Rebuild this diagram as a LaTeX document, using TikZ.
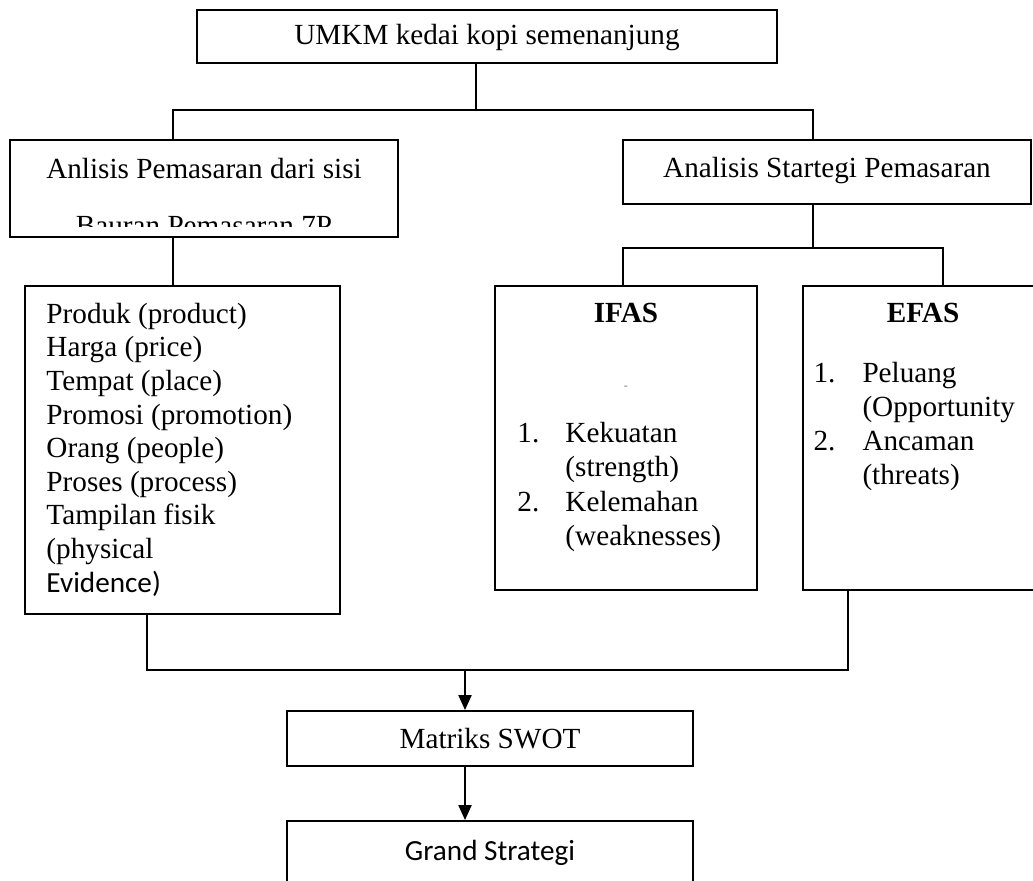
\documentclass[tikz,border=0pt]{standalone}
\usepackage{fontspec}
\setmainfont{Liberation Serif}
\newfontfamily\calibrifont{Carlito}
\usetikzlibrary{arrows.meta,positioning,calc,fit}
\tikzstyle{kotak} = [draw, line width=0.75pt, inner sep=0pt]
\tikzstyle{garis} = [line width=0.75pt]
\tikzstyle{panah} = [line width=0.75pt, -{Triangle[length=6.2pt,width=5.4pt]}]

\begin{document}
\begin{tikzpicture}[x=0.411pt, y=-0.411pt, inner sep=0pt, font=\fontsize{12}{13.8}\selectfont]
      \clip (0,0) rectangle (1033,881);
      % kotak-kotak
      \node[kotak, fit={(197,10) (777,63)}] (umkm) {};
      \node[kotak, fit={(10,140) (398,237)}] (bauran) {};
      \node[kotak, fit={(623,140) (1031,204)}] (strategi) {};
      \node[kotak, fit={(25,286) (340,614)}] (bauran7p) {};
      \node[kotak, fit={(495,286) (757,590)}] (ifas) {};
      \node[kotak, fit={(803,286) (1043,590)}] (efas) {};
      \node[kotak, fit={(287,711) (693,766)}] (swot) {};
      \node[kotak, fit={(287,821) (693,930)}] (grand) {};
      % teks
      \node[anchor=base] (umkmteks) at (487,45) {UMKM kedai kopi semenanjung};
      \node[anchor=base] (anlisis) at (204,179) {Anlisis Pemasaran dari sisi};
      \begin{scope}
        \clip (10,140) rectangle (398,227);
        \node[anchor=base] (bauranteks) at (204,236) {Bauran Pemasaran 7P};
      \end{scope}
      \node[anchor=base] (strategiteks) at (827,178) {Analisis Startegi Pemasaran};
      \node[anchor=base west] (produk) at (46,323.4) {Produk (product)};
      \node[anchor=base west] (harga) at (46,357) {Harga (price)};
      \node[anchor=base west] (tempat) at (46,390.6) {Tempat (place)};
      \node[anchor=base west] (promosi) at (46,424.2) {Promosi (promotion)};
      \node[anchor=base west] (orang) at (46,457.8) {Orang (people)};
      \node[anchor=base west] (proses) at (46,491.4) {Proses (process)};
      \node[anchor=base west] (tampilan) at (46,525) {Tampilan fisik};
      \node[anchor=base west] (physical) at (46,558.6) {(physical};
      \node[anchor=base west] (evidence) at (46,592.2) {\calibrifont Evidence)};
      \node[anchor=base] (ifasjudul) at (626,323) {\bfseries IFAS};
      \node[text=gray, font=\tiny] (titik) at (626,388) {-};
      \node[anchor=base west] (ifas1) at (517,443) {1.};
      \node[anchor=base west] (kekuatan) at (565,443) {Kekuatan};
      \node[anchor=base west] (strength) at (565,477) {(strength)};
      \node[anchor=base west] (ifas2) at (517,511) {2.};
      \node[anchor=base west] (kelemahan) at (565,511) {Kelemahan};
      \node[anchor=base west] (weak) at (565,545) {(weaknesses)};
      \node[anchor=base] (efasjudul) at (923,323) {\bfseries EFAS};
      \node[anchor=base west] (efas1) at (813,383) {1.};
      \node[anchor=base west] (peluang) at (862,383) {Peluang};
      \node[anchor=base west] (opport) at (862,417) {(Opportunity};
      \node[anchor=base west] (efas2) at (813,451) {2.};
      \node[anchor=base west] (ancaman) at (862,451) {Ancaman};
      \node[anchor=base west] (threats) at (862,485) {(threats)};
      \node[anchor=base] (swotteks) at (490,748) {Matriks SWOT};
      \node[anchor=base] (grandteks) at (490,860) {\calibrifont Grand Strategi};
      % garis penghubung
      \coordinate (t1) at (476,110);
      \coordinate (t2) at (173,110);
      \coordinate (t3) at (813,110);
      \coordinate (t5) at (813,248);
      \coordinate (t6) at (623,248);
      \coordinate (t7) at (943,248);
      \coordinate (t8) at (147,670);
      \coordinate (t9) at (848,670);
      \coordinate (t10) at (465,670);
      \draw[garis] (umkm.south -| t1) -- (t1);
      \draw[garis] (bauran.north -| t2) -- (t2) -- (t3) -- (strategi.north -| t3);
      \draw[garis] (bauran.south -| t2) -- (bauran7p.north -| t2);
      \draw[garis] (strategi.south -| t5) -- (t5);
      \draw[garis] (ifas.north -| t6) -- (t6) -- (t7) -- (efas.north -| t7);
      \draw[garis] (bauran7p.south -| t8) -- (t8) -- (t9) -- (efas.south -| t9);
      \draw[panah] (t10) -- (swot.north -| t10);
      \draw[panah] (swot.south -| t10) -- (grand.north -| t10);
\end{tikzpicture}
\end{document}
